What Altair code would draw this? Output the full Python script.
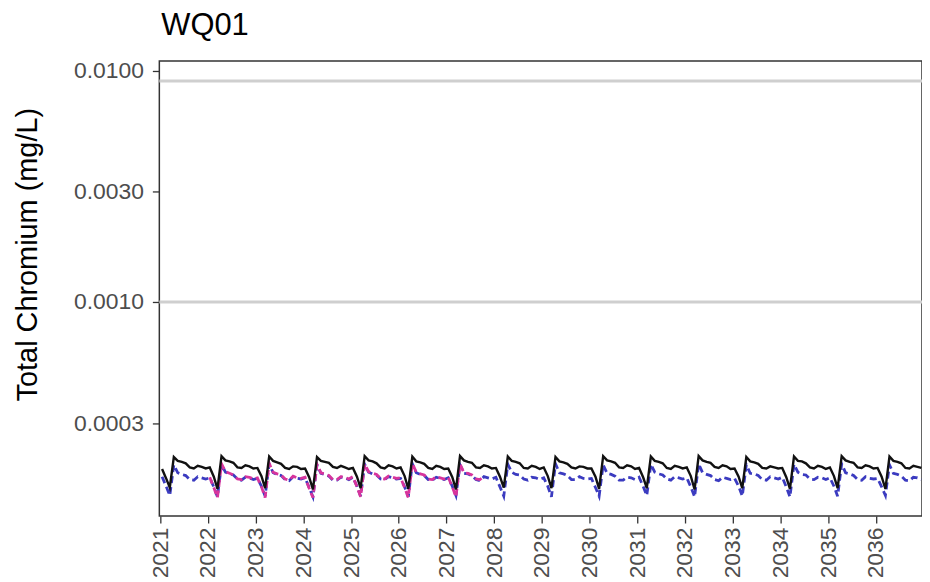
import altair as alt
import pandas as pd

# ---------------- data (µg/L, converted to mg/L below) ----------------
years = list(range(2021, 2037))

# monthly values Jan..Dec, one row per year
black_rows = [
    [0.190, 0.173, 0.158, 0.214, 0.206, 0.204, 0.201, 0.193, 0.191, 0.196, 0.194, 0.191],
    [0.193, 0.176, 0.156, 0.216, 0.207, 0.205, 0.202, 0.193, 0.192, 0.197, 0.195, 0.191],
    [0.192, 0.177, 0.157, 0.215, 0.206, 0.203, 0.200, 0.192, 0.190, 0.195, 0.194, 0.190],
    [0.191, 0.175, 0.155, 0.214, 0.206, 0.204, 0.202, 0.194, 0.192, 0.196, 0.193, 0.190],
    [0.192, 0.176, 0.157, 0.216, 0.207, 0.205, 0.201, 0.193, 0.191, 0.197, 0.195, 0.191],
    [0.193, 0.177, 0.156, 0.215, 0.205, 0.203, 0.200, 0.192, 0.190, 0.196, 0.194, 0.190],
    [0.191, 0.175, 0.155, 0.216, 0.207, 0.204, 0.202, 0.193, 0.192, 0.197, 0.195, 0.191],
    [0.192, 0.176, 0.158, 0.215, 0.206, 0.204, 0.201, 0.192, 0.191, 0.196, 0.194, 0.190],
    [0.193, 0.177, 0.157, 0.214, 0.205, 0.203, 0.200, 0.193, 0.191, 0.195, 0.194, 0.191],
    [0.191, 0.176, 0.156, 0.216, 0.207, 0.205, 0.202, 0.193, 0.192, 0.197, 0.195, 0.190],
    [0.192, 0.175, 0.157, 0.215, 0.206, 0.204, 0.201, 0.192, 0.190, 0.196, 0.194, 0.191],
    [0.193, 0.177, 0.155, 0.216, 0.207, 0.204, 0.202, 0.194, 0.192, 0.197, 0.195, 0.190],
    [0.191, 0.176, 0.157, 0.214, 0.205, 0.203, 0.200, 0.192, 0.191, 0.195, 0.193, 0.191],
    [0.192, 0.175, 0.156, 0.215, 0.206, 0.205, 0.201, 0.193, 0.191, 0.196, 0.194, 0.190],
    [0.193, 0.177, 0.157, 0.216, 0.207, 0.204, 0.202, 0.193, 0.192, 0.197, 0.195, 0.191],
    [0.192, 0.176, 0.156, 0.215, 0.206, 0.204, 0.201, 0.192, 0.191, 0.196, 0.194, 0.192],
]

blue_rows = [
    [0.176, 0.160, 0.146, 0.198, 0.183, 0.180, 0.178, 0.171, 0.170, 0.176, 0.174, 0.172],
    [0.174, 0.159, 0.144, 0.199, 0.184, 0.181, 0.179, 0.172, 0.170, 0.175, 0.174, 0.171],
    [0.173, 0.160, 0.145, 0.200, 0.183, 0.180, 0.178, 0.171, 0.169, 0.176, 0.173, 0.172],
    [0.174, 0.158, 0.144, 0.198, 0.182, 0.180, 0.177, 0.170, 0.170, 0.175, 0.174, 0.171],
    [0.175, 0.160, 0.145, 0.199, 0.184, 0.181, 0.179, 0.172, 0.171, 0.176, 0.174, 0.172],
    [0.173, 0.159, 0.144, 0.200, 0.183, 0.180, 0.178, 0.171, 0.170, 0.175, 0.173, 0.171],
    [0.174, 0.160, 0.146, 0.198, 0.182, 0.181, 0.178, 0.171, 0.169, 0.176, 0.174, 0.172],
    [0.175, 0.159, 0.145, 0.199, 0.184, 0.180, 0.179, 0.172, 0.170, 0.175, 0.174, 0.171],
    [0.174, 0.160, 0.144, 0.200, 0.183, 0.181, 0.178, 0.171, 0.171, 0.176, 0.173, 0.172],
    [0.173, 0.158, 0.145, 0.198, 0.182, 0.180, 0.177, 0.170, 0.170, 0.175, 0.174, 0.171],
    [0.175, 0.160, 0.146, 0.199, 0.184, 0.181, 0.179, 0.172, 0.170, 0.176, 0.174, 0.172],
    [0.174, 0.159, 0.144, 0.200, 0.183, 0.180, 0.178, 0.171, 0.169, 0.175, 0.173, 0.171],
    [0.173, 0.160, 0.145, 0.198, 0.182, 0.181, 0.178, 0.171, 0.170, 0.176, 0.174, 0.172],
    [0.175, 0.159, 0.144, 0.199, 0.184, 0.180, 0.179, 0.172, 0.171, 0.175, 0.174, 0.171],
    [0.174, 0.160, 0.145, 0.200, 0.183, 0.181, 0.178, 0.171, 0.170, 0.176, 0.173, 0.172],
    [0.173, 0.159, 0.146, 0.198, 0.182, 0.180, 0.177, 0.170, 0.169, 0.175, 0.174, 0.171],
]

# magenta series covers Jan 2022 .. Oct 2027
magenta_years = list(range(2022, 2028))
magenta_rows = [
    [0.175, 0.158, 0.143, 0.200, 0.185, 0.182, 0.179, 0.172, 0.171, 0.176, 0.175, 0.172],
    [0.174, 0.159, 0.143, 0.201, 0.184, 0.181, 0.179, 0.172, 0.170, 0.177, 0.174, 0.173],
    [0.175, 0.157, 0.143, 0.199, 0.183, 0.181, 0.178, 0.171, 0.171, 0.176, 0.175, 0.172],
    [0.176, 0.159, 0.144, 0.200, 0.185, 0.182, 0.180, 0.173, 0.172, 0.177, 0.175, 0.173],
    [0.174, 0.158, 0.143, 0.201, 0.184, 0.181, 0.179, 0.172, 0.171, 0.176, 0.174, 0.172],
    [0.175, 0.159, 0.144, 0.200, 0.183, 0.182, 0.179, 0.172, 0.171, 0.177],
]

thresholds = [0.009, 0.001]
y_ticks = [0.0003, 0.001, 0.003, 0.01]


def to_frame(yrs, rows, name):
    recs = []
    for y, row in zip(yrs, rows):
        for m, v in enumerate(row, start=1):
            recs.append({"date": f"{y}-{m:02d}-15", "value": v / 1000.0, "series": name})
    return pd.DataFrame(recs)


df_black = to_frame(years, black_rows, "black")
df_blue = to_frame(years, blue_rows, "blue")
df_mag = to_frame(magenta_years, magenta_rows, "magenta")
df_thr = pd.DataFrame({"value": thresholds})

FONT = "Liberation Sans"

x_scale = alt.Scale(domain=[alt.DateTime(year=2020, month=12, date=25),
                            alt.DateTime(year=2036, month=12, date=20)])
y_scale = alt.Scale(type="log", domain=[0.000119, 0.01099])

x_enc = alt.X("date:T", scale=x_scale, title=None,
              axis=alt.Axis(values=[alt.DateTime(year=y, month=1, date=1) for y in years],
                            format="%Y", labelAngle=270, labelAlign="right",
                            labelBaseline="middle", labelPadding=4))
y_axis = alt.Axis(values=y_ticks, format=".4f", title="Total Chromium (mg/L)",
                  titleAngle=270, titleX=-132, titleY=194, titleAlign="center",
                  titleBaseline="middle", labelPadding=9)
y_enc = alt.Y("value:Q", scale=y_scale, axis=y_axis)

rules = alt.Chart(df_thr).mark_rule(color="#cfcfcf", strokeWidth=3).encode(y=y_enc)

blue = alt.Chart(df_blue).mark_line(color="#3b3bc0", strokeWidth=2.8,
                                    strokeDash=[7, 4]).encode(x=x_enc, y=y_enc)
magenta = alt.Chart(df_mag).mark_line(color="#d8349c", strokeWidth=2.8,
                                      strokeDash=[7, 4]).encode(x=x_enc, y=y_enc)
black = alt.Chart(df_black).mark_line(color="#111111", strokeWidth=2.4).encode(x=x_enc, y=y_enc)

chart = alt.layer(rules, blue, magenta, black).properties(
    width=766,
    height=457,
    autosize=alt.AutoSizeParams(type="none"),
    padding={"left": 152, "top": 52, "right": 0, "bottom": 64},
    title=alt.TitleParams("WQ01", anchor="start", frame="group", fontSize=31,
                          font=FONT, fontWeight="normal", color="#000000",
                          offset=18, dx=2),
).configure_view(
    stroke="#333333", strokeWidth=1.5
).configure_axis(
    grid=False, domain=False, tickColor="#333333", tickSize=7, tickWidth=1.3,
    labelFont=FONT, labelFontSize=23, labelColor="#4d4d4d",
    titleFont=FONT, titleFontSize=29, titleFontWeight="normal", titleColor="#000000",
)

chart.save("out.html", embed_options={"renderer": "svg", "actions": False})
